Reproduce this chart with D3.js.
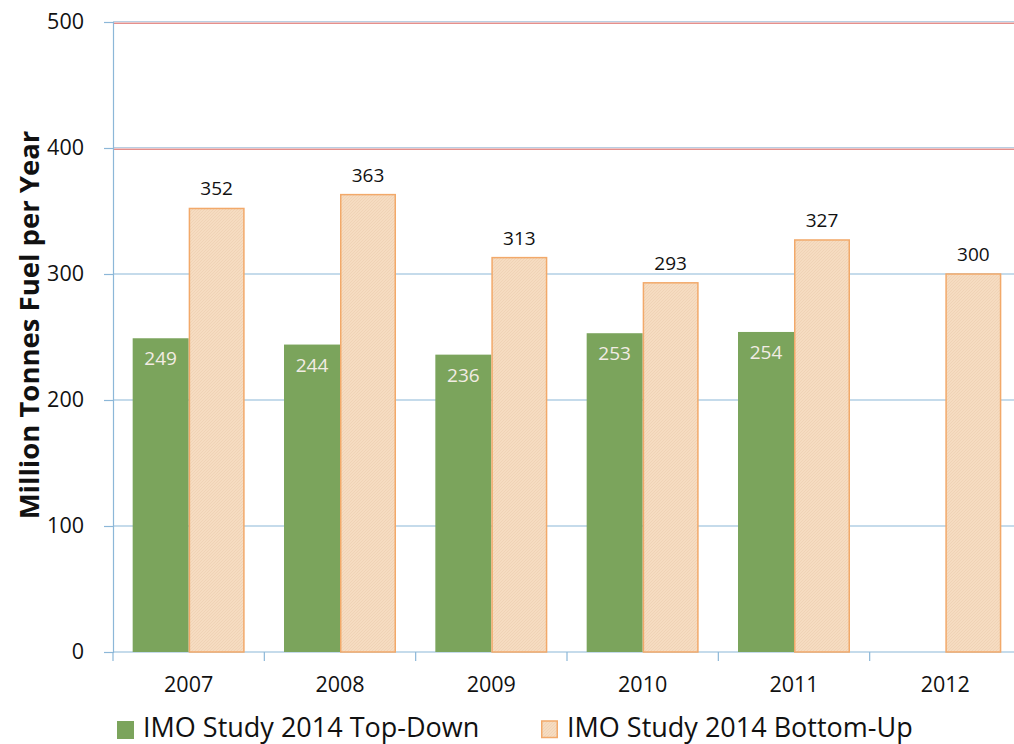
<!DOCTYPE html>
<html><head><meta charset="utf-8">
<script src="https://cdn.jsdelivr.net/npm/d3@7"></script>
<style>body{margin:0;background:#fff}svg{display:block}text{font-family:"Open Sans",sans-serif}</style>
</head><body><svg id="c" width="1014" height="744"></svg>
<script>
const years = ["2007","2008","2009","2010","2011","2012"];
const topDown = [249,244,236,253,254,null];
const bottomUp = [352,363,313,293,327,300];
const seriesNames = ["IMO Study 2014 Top-Down","IMO Study 2014 Bottom-Up"];
const yTicks = [0,100,200,300,400,500];
const yTitle = "Million Tonnes Fuel per Year";

const svg = d3.select("#c");
const green = "#7ba45c", tan = "#f6dcc1", tanStroke = "#f2a96a";
const defs = svg.append("defs");
const pat = defs.append("pattern").attr("id","hatch").attr("patternUnits","userSpaceOnUse").attr("width",3).attr("height",3);
pat.append("rect").attr("width",3).attr("height",3).attr("fill",tan);
pat.append("path").attr("d","M0,3 L3,0 M-1,1 L1,-1 M2,4 L4,2").attr("stroke","#eed0b2").attr("stroke-width",0.7);

const x0 = d3.scaleBand().domain(years).range([113,1021]).paddingInner(0.26).paddingOuter(0.13);
const x1 = d3.scaleBand().domain([0,1]).range([0,x0.bandwidth()]);
const y = d3.scaleLinear().domain([0,500]).range([652,22]);

// gridlines
const grid = svg.append("g");
yTicks.filter(t=>t>0).forEach(t=>{
  if (t>=400) {
    grid.append("line").attr("x1",113).attr("x2",1014).attr("y1",y(t)+1.2).attr("y2",y(t)+1.2).attr("stroke","#e58f8c").attr("stroke-width",1.4);
    grid.append("line").attr("x1",113).attr("x2",1014).attr("y1",y(t)-0.4).attr("y2",y(t)-0.4).attr("stroke","#a9c4dc").attr("stroke-width",0.9);
  } else {
    grid.append("line").attr("x1",113).attr("x2",1014).attr("y1",y(t)).attr("y2",y(t)).attr("stroke","#8cb7d8").attr("stroke-width",1.2);
  }
});

// y axis
const yAxis = d3.axisLeft(y).tickValues(yTicks).tickSize(9).tickPadding(20);
const ya = svg.append("g").attr("transform","translate(113,0)").call(yAxis);
ya.select(".domain").attr("stroke","#8cb7d8").attr("stroke-width",1.2);
ya.selectAll(".tick line").attr("stroke","#8cb7d8").attr("stroke-width",1.2);
ya.selectAll("text").attr("font-size",21.5).attr("fill","#111");

// x axis
const xAxis = d3.axisBottom(x0).tickSize(0).tickPadding(25);
const xa = svg.append("g").attr("transform","translate(0,652)").call(xAxis);
xa.select(".domain").remove();
xa.selectAll("text").attr("font-size",21.5).attr("fill","#111");
const bounds = years.map((d,i)=>x0(d) - x0.step()*x0.paddingInner()/2);
svg.append("line").attr("x1",113).attr("x2",1014).attr("y1",652).attr("y2",652).attr("stroke","#8cb7d8").attr("stroke-width",1.2);
svg.append("g").selectAll("line").data(bounds).join("line")
  .attr("x1",d=>d).attr("x2",d=>d).attr("y1",652).attr("y2",661).attr("stroke","#8cb7d8").attr("stroke-width",1.2);

// bars
const g = svg.append("g");
years.forEach((yr,i)=>{
  if (topDown[i]!=null){
    g.append("rect").attr("x",x0(yr)+x1(0)).attr("width",x1.bandwidth()).attr("y",y(topDown[i])).attr("height",y(0)-y(topDown[i])).attr("fill",green);
    g.append("text").attr("x",x0(yr)+x1(0)+x1.bandwidth()/2).attr("y",y(topDown[i])+27).attr("text-anchor","middle").attr("font-size",19).attr("fill","#f2ece4").text(topDown[i]);
  }
  g.append("rect").attr("x",x0(yr)+x1(1)+0.75).attr("width",x1.bandwidth()-1.5).attr("y",y(bottomUp[i])).attr("height",y(0)-y(bottomUp[i])).attr("fill","url(#hatch)").attr("stroke",tanStroke).attr("stroke-width",1.5);
  g.append("text").attr("x",x0(yr)+x1(1)+x1.bandwidth()/2).attr("y",y(bottomUp[i])-13).attr("text-anchor","middle").attr("font-size",19).attr("fill","#111").text(bottomUp[i]);
});

// y title
svg.append("text").attr("transform","translate(39,325) rotate(-90)").attr("text-anchor","middle").attr("font-size",27.5).attr("font-weight","bold").attr("fill","#111").text(yTitle);

// legend
const leg = svg.append("g");
const legX = [117,541];
seriesNames.forEach((s,i)=>{
  leg.append("rect").attr("x",legX[i]+ (i?0.75:0)).attr("y",721).attr("width",i?15.5:17).attr("height",i?16.5:18)
    .attr("fill",i?"url(#hatch)":green).attr("stroke",i?tanStroke:"none").attr("stroke-width",1.5);
  leg.append("text").attr("x",legX[i]+26).attr("y",737).attr("font-size",27).attr("fill","#111").text(s);
});
</script></body></html>
